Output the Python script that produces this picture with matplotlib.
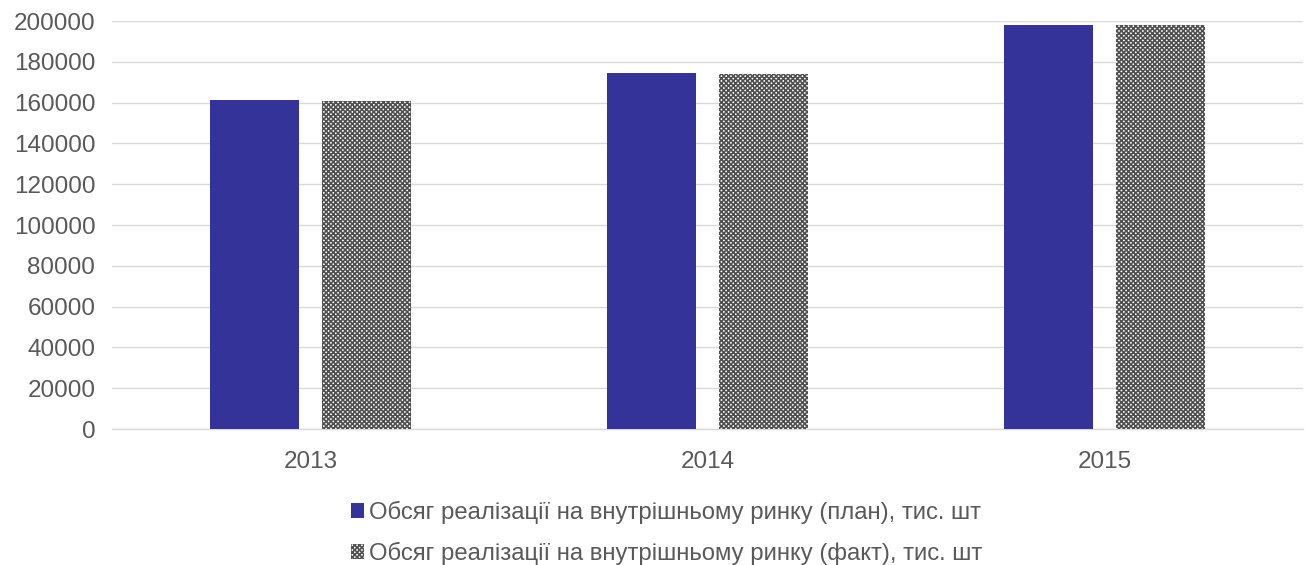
import matplotlib
matplotlib.use("Agg")
import matplotlib.pyplot as plt
import numpy as np
from matplotlib.patches import Patch

years = ["2013", "2014", "2015"]
plan = [161300, 174500, 198000]
fact = [161000, 174000, 197800]
yticks = [0, 20000, 40000, 60000, 80000, 100000, 120000, 140000, 160000, 180000, 200000]
labels = ["Обсяг реалізації на внутрішньому ринку (план), тис. шт",
          "Обсяг реалізації на внутрішньому ринку (факт), тис. шт"]

plt.rcParams['font.family'] = ['Liberation Sans', 'DejaVu Sans']
plt.rcParams['hatch.linewidth'] = 1.2
plt.rcParams['hatch.color'] = '#505050'

fig = plt.figure(figsize=(13.1, 5.65), dpi=100)
ax = fig.add_axes([112/1310, 1-429/565, (1303-112)/1310, (429-21)/565])

x = np.arange(len(years))
w = 0.224
off = 0.142
ax.bar(x - off, plan, width=w, color='#333399', zorder=3)
ax.bar(x + off, fact, width=w, color='white', edgecolor='#505050', hatch='xxxxxxx', linewidth=0, zorder=3)

ax.set_xlim(-0.5, 2.5)
ax.set_ylim(0, 200000)
ax.set_yticks(yticks)
ax.set_yticklabels([str(v) for v in yticks])
ax.set_xticks(x)
ax.set_xticklabels(years)
ax.grid(axis='y', color='#d9d9d9', linewidth=1.0, zorder=0)
for s in ['top', 'right', 'left']:
    ax.spines[s].set_visible(False)
ax.spines['bottom'].set_color('#d9d9d9')
ax.spines['bottom'].set_linewidth(1.0)
ax.tick_params(axis='both', length=0, labelsize=17.5, colors='#595959')
ax.tick_params(axis='y', pad=12)
ax.tick_params(axis='x', pad=16)

handles = [Patch(facecolor='#333399', label=labels[0]),
           Patch(facecolor='white', edgecolor='#505050', hatch='xxxxxxx', linewidth=0, label=labels[1])]
fig.legend(handles=handles, loc='center', bbox_to_anchor=(0.509, 1-533/565), ncol=1,
           frameon=False, fontsize=17.2, labelcolor='#595959', handlelength=0.55,
           handleheight=0.55, handletextpad=0.2, labelspacing=0.75)

fig.savefig("out.png", dpi=100, facecolor='white')
